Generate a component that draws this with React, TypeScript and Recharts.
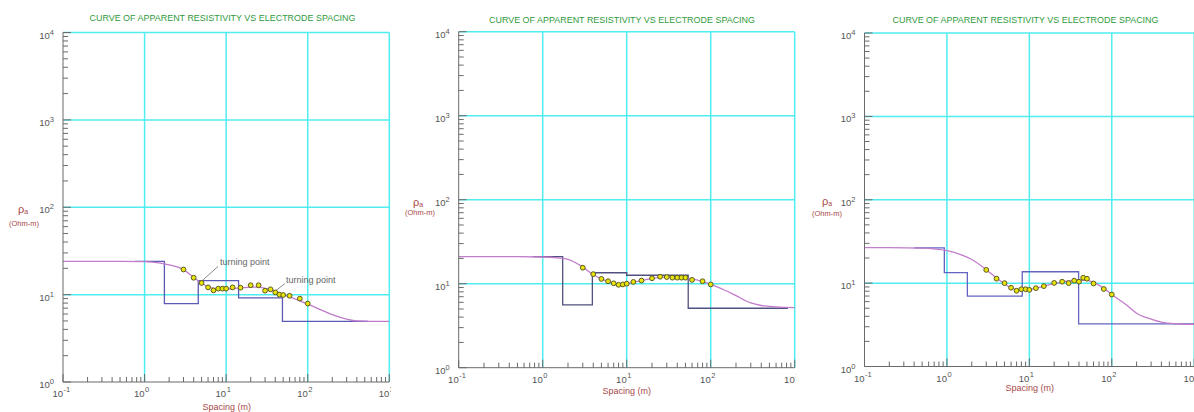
import { ComposedChart, Line, Scatter, XAxis, YAxis, ReferenceLine, ReferenceDot } from 'recharts';

// electrode spacing (m) of the field readings, same on all three soundings
const spacing = [3, 4, 5, 6, 7, 8, 9, 10, 12, 15, 20, 25, 30, 35, 40, 45, 50, 60, 80, 100];
const rhoObs1 = [19.4, 15.6, 13.6, 12.1, 11.2, 11.7, 11.7, 11.7, 12.1, 12, 12.8, 12.8, 11.1, 11.5, 10.6, 10, 9.9, 9.7, 9.0, 7.9];
const rhoObs2 = [15.5, 13.0, 11.4, 10.7, 10.1, 9.7, 9.8, 10.0, 10.5, 10.9, 11.6, 12.1, 12.0, 11.8, 11.8, 11.8, 11.8, 11.1, 10.7, 9.8];
const rhoObs3 = [14.4, 11.3, 10.0, 8.8, 8.1, 8.45, 8.45, 8.3, 8.7, 9.2, 10.05, 10.4, 10.0, 10.7, 10.4, 11.6, 11.3, 9.9, 8.5, 7.3];

// computed sounding curve
const modelSpacing = [0.1, 0.2, 0.5, 1, 1.5, 2, 3, 4, 5, 6, 7, 8, 10, 12, 15, 20, 25, 30, 40, 50, 60, 80, 100, 150, 200, 300, 400, 600, 1000];
const rhoModel1 = [24, 24, 24, 23.8, 23.1, 21.9, 19.3, 15.8, 13.5, 12.3, 11.8, 11.6, 11.6, 11.7, 11.9, 12.2, 12.2, 11.8, 11, 10, 9.4, 8.5, 7.8, 6.6, 5.9, 5.25, 5.0, 4.95, 4.95];
const rhoModel2 = [21, 21, 21, 20.8, 20.3, 19.5, 15.8, 12.8, 11.4, 10.6, 10.2, 10.0, 10.0, 10.4, 10.9, 11.5, 11.9, 12.0, 12.0, 11.8, 11.4, 10.6, 9.8, 8.3, 7.2, 5.9, 5.5, 5.3, 5.2];
const rhoModel3 = [26.7, 26.7, 26.3, 24.5, 21.8, 19.2, 14.5, 11.5, 9.8, 8.8, 8.4, 8.3, 8.4, 8.7, 9.2, 9.9, 10.3, 10.6, 10.9, 10.8, 10.2, 8.7, 7.3, 5.5, 4.35, 3.7, 3.4, 3.25, 3.2];

// layered model: depth of layer top and its resistivity
const layerTop1 = [0.76, 1.75, 4.55, 14.2, 49, 550];
const layerRho1 = [24, 7.9, 14.5, 9.2, 4.93, 4.93];
const layerTop2 = [0.76, 1.73, 3.9, 10, 54, 830];
const layerRho2 = [21, 5.6, 13.5, 12.6, 5.1, 5.1];
const layerTop3 = [0.4, 0.93, 1.77, 8.2, 39.6, 1000];
const layerRho3 = [26.5, 13.4, 7.0, 13.7, 3.24, 3.24];

const xDecades = [0.1, 1, 10, 100, 1000];
const yDecades = [1, 10, 100, 1000, 10000];
const minorSteps = [2, 3, 4, 5, 6, 7, 8, 9];

const withMinor = (dec: number[]) => [
  ...dec.slice(0, -1).flatMap((d) => [d, ...minorSteps.map((m) => d * m)]),
  dec[dec.length - 1],
];
const xTicks = withMinor(xDecades);
const yTicks = withMinor(yDecades);

const toPoints = (xs: number[], ys: number[]) => xs.map((x, i) => ({ x, y: ys[i] }));

const font = '"Liberation Sans", Arial, sans-serif';
const axisColor = '#6a6a6a';
const tickText = '#555';
const gridColor = '#4fecf0';
const labelRed = '#a84848';

const isMajor = (v: number) => {
  const lg = Math.log10(v);
  return Math.abs(lg - Math.round(lg)) < 1e-6;
};

const XTick = (props: any) => {
  const { x, y, payload } = props;
  const major = isMajor(payload.value);
  const exp = Math.round(Math.log10(payload.value));
  return (
    <g>
      <line x1={x} x2={x} y1={y} y2={y - (major ? 8 : 5)} stroke={axisColor} />
      {major && (
        <text x={x} y={y + 15} textAnchor="end" fontSize={9.5} fill={tickText} fontFamily={font}>
          10
        </text>
      )}
      {major && (
        <text x={x + 0.5} y={y + 10} fontSize={7.5} fill={tickText} fontFamily={font}>
          {exp}
        </text>
      )}
    </g>
  );
};

const YTick = (props: any) => {
  const { x, y, payload } = props;
  const major = isMajor(payload.value);
  const exp = Math.round(Math.log10(payload.value));
  return (
    <g>
      <line x1={x} x2={x + (major ? 8 : 5)} y1={y} y2={y} stroke={axisColor} />
      {major && (
        <text x={x - 9} y={y + 6} textAnchor="end" fontSize={9.5} fill={tickText} fontFamily={font}>
          10
          <tspan dy={-4} fontSize={7.5}>
            {exp}
          </tspan>
        </text>
      )}
    </g>
  );
};

const Dot = (props: any) => (
  <circle cx={props.cx} cy={props.cy} r={2.4} fill="#e8e40a" stroke="#5c5a22" strokeWidth={1} />
);

const notes1 = [
  { from: { x: 7.94, y: 21 }, to: { x: 4.77, y: 13.7 }, at: { x: 8.4, y: 22.1 } },
  { from: { x: 52.6, y: 13.4 }, to: { x: 39.6, y: 10.9 }, at: { x: 54, y: 13.6 } },
];

const panels = [
  {
    left: 0, clip: 390.5,
    margin: { top: 32.5, right: 10.7, bottom: 29, left: 62 },
    obs: toPoints(spacing, rhoObs1), model: toPoints(modelSpacing, rhoModel1), layers: toPoints(layerTop1, layerRho1),
    layerColor: '#5a5ab4', notes: notes1,
    title: { x: 222.5, y: 21 }, rho: { x: 23, y: 213 }, unit: { x: 24, y: 226 }, spacingLabel: { x: 226.7, y: 410 },
  },
  {
    left: 400, clip: 395.8,
    margin: { top: 31.7, right: 5.3, bottom: 43.3, left: 57.7 },
    obs: toPoints(spacing, rhoObs2), model: toPoints(modelSpacing, rhoModel2), layers: toPoints(layerTop2, layerRho2),
    layerColor: '#50507e', notes: [],
    title: { x: 222, y: 23 }, rho: { x: 18, y: 206 }, unit: { x: 20, y: 215 }, spacingLabel: { x: 226.7, y: 394 },
  },
  {
    left: 800, clip: 394,
    margin: { top: 33, right: 5.8, bottom: 44.5, left: 63.5 },
    obs: toPoints(spacing, rhoObs3), model: toPoints(modelSpacing, rhoModel3), layers: toPoints(layerTop3, layerRho3),
    layerColor: '#6464c0', notes: [],
    title: { x: 225.5, y: 23 }, rho: { x: 27, y: 205 }, unit: { x: 27, y: 216 }, spacingLabel: { x: 229.8, y: 391 },
  },
];

const Panel = ({ p }: { p: (typeof panels)[number] }) => (
  <div style={{ position: 'absolute', left: p.left, top: 0, width: p.clip, height: 412, overflow: 'hidden' }}>
    <ComposedChart width={400} height={412} margin={p.margin}>
      <XAxis
        type="number"
        dataKey="x"
        scale="log"
        domain={[0.1, 1000]}
        ticks={xTicks}
        interval={0}
        tick={XTick}
        tickLine={false}
        tickSize={0}
        tickMargin={0}
        height={1}
        axisLine={{ stroke: axisColor }}
        allowDataOverflow
      />
      <YAxis
        type="number"
        dataKey="y"
        scale="log"
        domain={[1, 10000]}
        ticks={yTicks}
        interval={0}
        tick={YTick}
        tickLine={false}
        tickSize={0}
        tickMargin={0}
        width={1}
        axisLine={{ stroke: axisColor }}
        allowDataOverflow
      />
      {xDecades.slice(1).map((v) => (
        <ReferenceLine key={'gx' + v} x={v} stroke={gridColor} strokeWidth={1.5} />
      ))}
      {yDecades.slice(1).map((v) => (
        <ReferenceLine key={'gy' + v} y={v} stroke={gridColor} strokeWidth={1.5} />
      ))}
      <Line data={p.layers} type="stepAfter" dataKey="y" stroke={p.layerColor} strokeWidth={1.3} dot={false} isAnimationActive={false} />
      <Line data={p.model} type="monotone" dataKey="y" stroke="#c27ccc" strokeWidth={1.3} dot={false} isAnimationActive={false} />
      {p.notes.map((n, i) => (
        <ReferenceLine key={'n' + i} segment={[n.from, n.to]} stroke="#8a8a8a" strokeWidth={1} />
      ))}
      <Scatter data={p.obs} dataKey="y" shape={Dot} isAnimationActive={false} />
      {p.notes.map((n, i) => (
        <ReferenceDot
          key={'t' + i}
          x={n.at.x}
          y={n.at.y}
          r={0}
          shape={(s: any) => (
            <text x={s.cx} y={s.cy} fontSize={9} fill="#666" fontFamily={font}>
              turning point
            </text>
          )}
        />
      ))}
    </ComposedChart>
    <svg width={400} height={412} style={{ position: 'absolute', left: 0, top: 0, pointerEvents: 'none' }}>
      <text x={p.title.x} y={p.title.y} textAnchor="middle" fontSize={8.5} fill="#2f9a3c" fontFamily={font} textLength={266} lengthAdjust="spacingAndGlyphs">
        CURVE OF APPARENT RESISTIVITY VS ELECTRODE SPACING
      </text>
      <text x={p.rho.x} y={p.rho.y} textAnchor="middle" fontSize={11} fill={labelRed} fontFamily={font}>
        ρ<tspan fontSize={7} dy={1}>a</tspan>
      </text>
      <text x={p.unit.x} y={p.unit.y} textAnchor="middle" fontSize={7.5} fill={labelRed} fontFamily={font}>
        (Ohm-m)
      </text>
      <text x={p.spacingLabel.x} y={p.spacingLabel.y} textAnchor="middle" fontSize={9} fill={labelRed} fontFamily={font}>
        Spacing (m)
      </text>
    </svg>
  </div>
);

export default function App() {
  return (
    <div style={{ position: 'absolute', left: 0, top: 0, width: 1194, height: 412, background: '#fff', overflow: 'hidden' }}>
      {panels.map((p) => (
        <Panel key={p.left} p={p} />
      ))}
    </div>
  );
}
